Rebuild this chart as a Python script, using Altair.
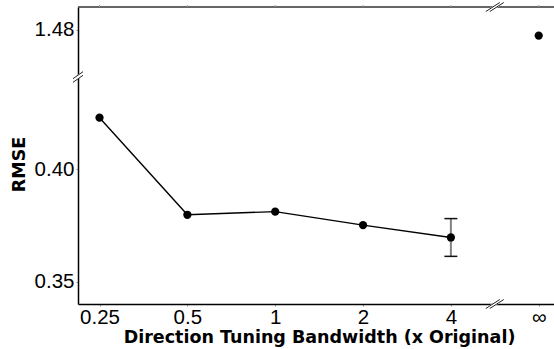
import json

import altair as alt
import pandas as pd

# Bandwidth multipliers (x axis categories) and the measured errors
categories = ["0.25", "0.5", "1", "2", "4", "∞"]
rmse = [0.4230, 0.3798, 0.3812, 0.3752, 0.3697, 1.4775]
err = [0.0, 0.0, 0.0, 0.0, 0.0084, 0.0]
y_ticks = [0.35, 0.40, 1.48]

df = pd.DataFrame({
    "pos": list(range(len(categories))),
    "label": categories,
    "rmse": rmse,
    "err": err,
})
df["lo"] = df["rmse"] - df["err"]
df["hi"] = df["rmse"] + df["err"]

W, H = 476, 297
BREAK_PX = 70  # pixel row where the y axis is cut

x_scale = alt.Scale(domain=[-0.245, 5.174], zero=False, nice=False)
# piecewise scale: lower panel 0.34-0.44, upper panel 1.459-1.490
y_scale = alt.Scale(
    domain=[0.3401, 0.4411, 1.4591, 1.4902],
    range=[H, BREAK_PX, BREAK_PX, 0],
    zero=False,
    nice=False,
)

label_expr = json.dumps(categories, ensure_ascii=False) + "[datum.value]"
LABEL_FONT = "Liberation Sans"
TITLE_FONT = "DejaVu Sans"
LABEL_SIZE = 20.5
TITLE_SIZE = 17.5

x_axis = alt.Axis(
    values=list(range(len(categories))),
    labelExpr=label_expr,
    title="Direction Tuning Bandwidth (x Original)",
    grid=False,
    domainColor="black",
    domainWidth=1.5,
    tickColor="#999999",
    tickSize=2,
    labelFont=LABEL_FONT,
    labelFontSize=LABEL_SIZE,
    labelColor="black",
    labelPadding=1.5,
    labelFlush=False,
    titleFont=TITLE_FONT,
    titleFontWeight="bold",
    titleFontSize=TITLE_SIZE,
    titleColor="black",
    titleBaseline="alphabetic",
    titleX=241,
    titleY=38,
)

y_axis = alt.Axis(
    orient="left",
    values=y_ticks,
    format=".2f",
    title="RMSE",
    grid=False,
    domainColor="black",
    domainWidth=1.5,
    tickColor="#999999",
    tickSize=2,
    labelFont=LABEL_FONT,
    labelFontSize=LABEL_SIZE,
    labelColor="black",
    labelPadding=2,
    titleFont=TITLE_FONT,
    titleFontWeight="bold",
    titleFontSize=TITLE_SIZE,
    titleColor="black",
    titleX=-50,
    titleY=157,
)


def X(field):
    return alt.X(field, scale=x_scale, axis=x_axis)


def Y(field):
    return alt.Y(field, scale=y_scale, axis=y_axis)


base = alt.Chart(df)

line = base.transform_filter("datum.label != '∞'").mark_line(
    color="black", strokeWidth=1.4
).encode(x=X("pos:Q"), y=Y("rmse:Q"))

bars = base.transform_filter("datum.err > 0").mark_rule(
    color="#808080", strokeWidth=2
).encode(x=X("pos:Q"), y=Y("lo:Q"), y2="hi:Q")

caps_lo = base.transform_filter("datum.err > 0").mark_tick(
    color="#111111", thickness=1.5, size=13, orient="horizontal", opacity=1
).encode(x=X("pos:Q"), y=Y("lo:Q"))

caps_hi = base.transform_filter("datum.err > 0").mark_tick(
    color="#111111", thickness=1.5, size=13, orient="horizontal", opacity=1
).encode(x=X("pos:Q"), y=Y("hi:Q"))

points = base.mark_circle(size=68, color="black", opacity=1).encode(
    x=X("pos:Q"), y=Y("rmse:Q")
)

# top frame line with small ticks at each category
one = alt.Chart(pd.DataFrame({"k": [0]}))
top_line = one.mark_rule(color="#333333", strokeWidth=1.5).encode(
    x=alt.value(0), x2=alt.value(W), y=alt.value(0)
)
top_ticks = base.mark_rule(color="#999999", strokeWidth=1).encode(
    x=X("pos:Q"), y=alt.value(-2), y2=alt.value(0)
)


# "//" axis-break symbols
def slash(x_enc, x2_enc, y_px, dx, dy, sx, sy, color, width):
    return one.mark_rule(
        color=color,
        strokeWidth=width,
        xOffset=-dx + sx,
        x2Offset=dx + sx,
        yOffset=dy + sy,
        y2Offset=-dy + sy,
    ).encode(x=x_enc, x2=x2_enc, y=alt.value(y_px), y2=alt.value(y_px))


def axis_break(x_enc, x2_enc, y_px, dx, dy, gap_x, gap_y):
    return [
        slash(x_enc, x2_enc, y_px, dx, dy, 0, 0, "white", 3.5),
        slash(x_enc, x2_enc, y_px, dx, dy, -gap_x, -gap_y, "#222222", 1),
        slash(x_enc, x2_enc, y_px, dx, dy, gap_x, gap_y, "#222222", 1),
    ]


gap_x = alt.datum(4.5, scale=x_scale, axis=x_axis)
gap_x2 = alt.datum(4.5)

breaks = (
    axis_break(alt.value(0), alt.value(0), BREAK_PX, 5, 3.5, 0, 1.8)
    + axis_break(gap_x, gap_x2, 0, 7, 4.5, 2, 0)
    + axis_break(gap_x, gap_x2, H, 7, 4.5, 2, 0)
)

chart = (
    alt.layer(line, bars, caps_lo, caps_hi, points, top_line, top_ticks, *breaks)
    .properties(
        width=W,
        height=H,
        padding={"left": 78, "top": 7, "right": 0, "bottom": 45},
        autosize="none",
        background="white",
    )
    .configure_view(strokeWidth=0)
)

chart.save("out.html", embed_options={"renderer": "svg", "actions": False})
